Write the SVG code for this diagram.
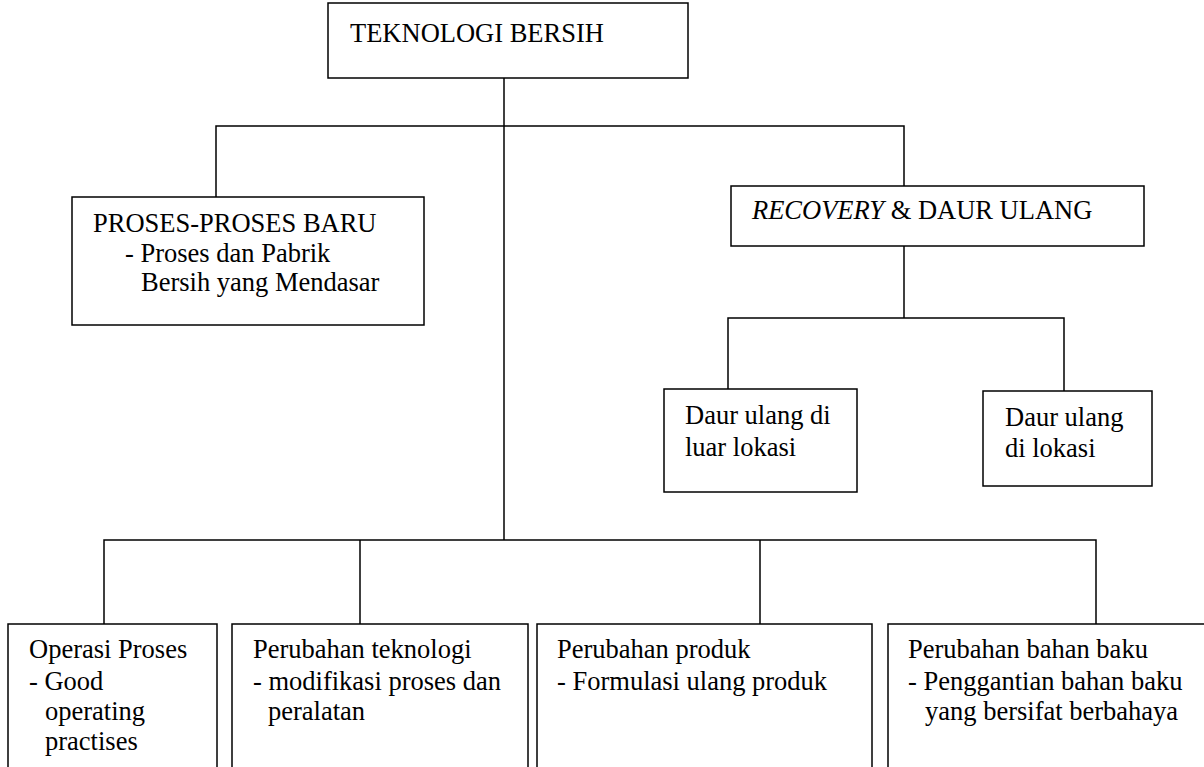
<svg xmlns="http://www.w3.org/2000/svg" width="1204" height="767" viewBox="0 0 1204 767">
<style>
.box{fill:#fff;stroke:#000;stroke-width:1.5}
.ln{fill:none;stroke:#000;stroke-width:1.5}
text{font-family:"Liberation Serif","Times New Roman",serif;font-size:26.5px;fill:#000}
</style>
<rect width="1204" height="767" fill="#fff"/>
<g id="connectors">
<path class="ln" d="M504,78 V540"/>
<path class="ln" d="M216,197 V126 H904 V186"/>
<path class="ln" d="M904,246 V318"/>
<path class="ln" d="M728,389 V318 H1064 V391"/>
<path class="ln" d="M104,624 V540 H1096 V624"/>
<path class="ln" d="M360,540 V624"/>
<path class="ln" d="M760,540 V624"/>
</g>
<g id="teknologi-bersih">
<rect class="box" x="328" y="3" width="360" height="75"/>
<text x="350" y="42">TEKNOLOGI BERSIH</text>
</g>
<g id="proses-baru">
<rect class="box" x="72" y="197" width="352" height="128"/>
<text x="93" y="232">PROSES-PROSES BARU</text>
<text x="125" y="262">- Proses dan Pabrik</text>
<text x="141" y="291">Bersih yang Mendasar</text>
</g>
<g id="recovery">
<rect class="box" x="731" y="186" width="413" height="60"/>
<text x="752" y="219"><tspan font-style="italic">RECOVERY</tspan> &amp; DAUR ULANG</text>
</g>
<g id="daur-luar">
<rect class="box" x="664" y="389" width="193" height="103"/>
<text x="685" y="424">Daur ulang di</text>
<text x="685" y="456">luar lokasi</text>
</g>
<g id="daur-lokasi">
<rect class="box" x="983" y="391" width="169" height="95"/>
<text x="1005" y="426">Daur ulang</text>
<text x="1005" y="457">di lokasi</text>
</g>
<g id="operasi-proses">
<rect class="box" x="8" y="624" width="209" height="160"/>
<text x="29" y="658">Operasi Proses</text>
<text x="29" y="690">- Good</text>
<text x="45" y="720">operating</text>
<text x="45" y="750">practises</text>
</g>
<g id="perubahan-teknologi">
<rect class="box" x="232" y="624" width="296" height="160"/>
<text x="253" y="658">Perubahan teknologi</text>
<text x="253" y="690">- modifikasi proses dan</text>
<text x="268" y="720">peralatan</text>
</g>
<g id="perubahan-produk">
<rect class="box" x="537" y="624" width="335" height="160"/>
<text x="557" y="658">Perubahan produk</text>
<text x="557" y="690">- Formulasi ulang produk</text>
</g>
<g id="perubahan-bahan-baku">
<rect class="box" x="888" y="624" width="330" height="160"/>
<text x="908" y="658">Perubahan bahan baku</text>
<text x="908" y="690">- Penggantian bahan baku</text>
<text x="925" y="720">yang bersifat berbahaya</text>
</g>
</svg>
